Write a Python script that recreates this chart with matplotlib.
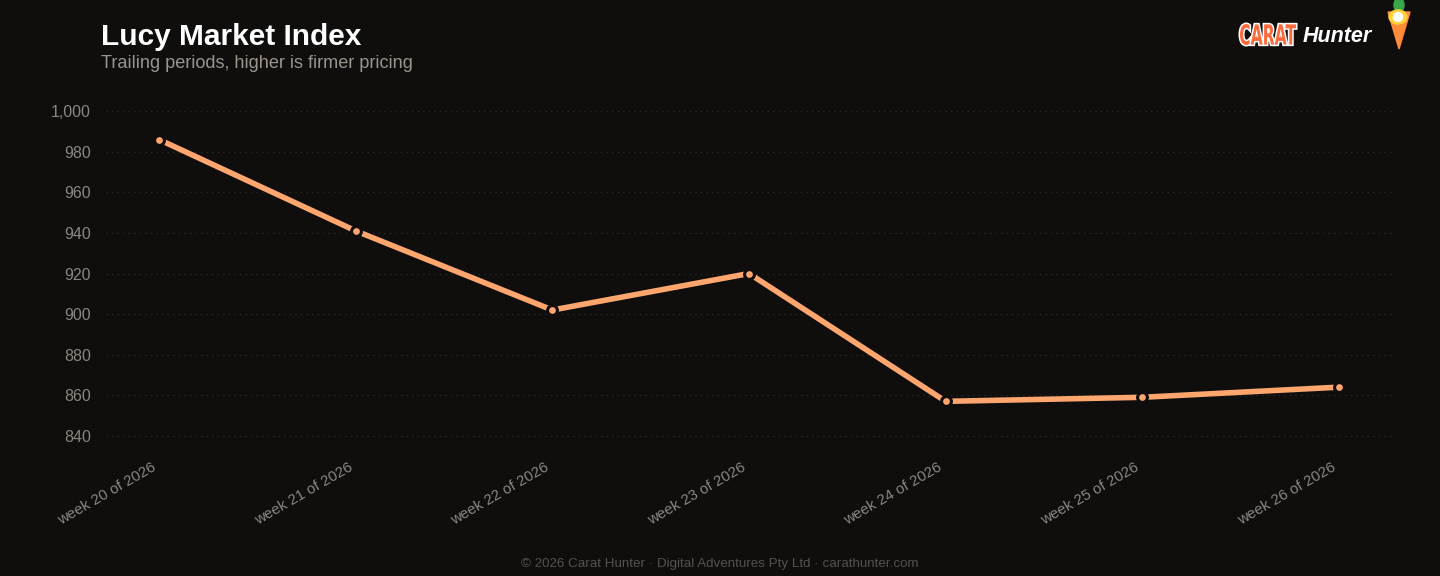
import matplotlib.pyplot as plt
import matplotlib.transforms as mtransforms
from matplotlib.patches import Polygon, Ellipse, PathPatch
from matplotlib.textpath import TextPath
from matplotlib.font_manager import FontProperties
from matplotlib.ticker import FuncFormatter

weeks = ['week 20 of 2026', 'week 21 of 2026', 'week 22 of 2026', 'week 23 of 2026',
         'week 24 of 2026', 'week 25 of 2026', 'week 26 of 2026']
index_values = [986, 941, 902, 920, 857, 859, 864]
y_ticks = [840, 860, 880, 900, 920, 940, 960, 980, 1000]

bg = '#0f0e0d'
line_col = '#ffa66e'
tick_col = '#8c8680'

plt.rcParams['font.family'] = ['Liberation Sans', 'DejaVu Sans']

fig = plt.figure(figsize=(14.4, 5.76), dpi=100, facecolor=bg)
ax = fig.add_axes([106/1440, 1-446/576, (1392-106)/1440, (446-101)/576])
ax.set_facecolor(bg)

x = list(range(len(weeks)))
ax.plot(x, index_values, color=line_col, lw=4, solid_capstyle='round', zorder=3)
ax.scatter(x, index_values, s=50, color=line_col, edgecolor=bg, linewidth=2.2, zorder=4)

ax.set_xlim(-0.27, 6.27)
ax.set_ylim(835, 1005)
ax.set_yticks(y_ticks)
ax.yaxis.set_major_formatter(FuncFormatter(lambda v, p: f'{v:,.0f}'))
ax.set_xticks(x)
ax.set_xticklabels(weeks, rotation=30, ha='right', rotation_mode='anchor')
ax.tick_params(axis='y', length=0, colors=tick_col, labelsize=11.5, pad=11)
ax.tick_params(axis='x', length=0, colors=tick_col, labelsize=10.8, pad=10)
shift = mtransforms.ScaledTranslation(-8/100, 0, fig.dpi_scale_trans)
for lbl in ax.get_xticklabels():
    lbl.set_transform(lbl.get_transform() + shift)
ax.grid(axis='y', color='#2b2926', linestyle=(0, (1, 3)), lw=1)
ax.grid(axis='x', visible=False)
for s in ax.spines.values():
    s.set_visible(False)

fig.text(101/1440, 1-37/576, 'Lucy Market Index', color='#ffffff', fontsize=21.5,
         fontweight='bold', va='center', ha='left')
fig.text(101/1440, 1-63/576, 'Trailing periods, higher is firmer pricing', color='#9a948d',
         fontsize=13.1, va='center', ha='left')
fig.text(0.5, 1-564/576, '\u00a9 2026 Carat Hunter \u00b7 Digital Adventures Pty Ltd \u00b7 carathunter.com',
         color='#55514d', fontsize=9.6, ha='center', va='center')

# logo: condensed "CARAT" drawn as a stretched text path (pixel coords)
tp = TextPath((0, 0), 'CARAT', size=10, prop=FontProperties(family='DejaVu Sans', weight='bold'))
ext = tp.get_extents()
sx = 56 / ext.width
sy = 21 / ext.height
path_tr = (mtransforms.Affine2D().translate(-ext.x0, -ext.y0).scale(sx, sy)
           .translate(1240, 576 - 45))
carat_path = path_tr.transform_path(tp)
fig.patches.append(PathPatch(carat_path, facecolor='#ffffff', edgecolor='#ffffff', lw=2.2,
                             transform=mtransforms.IdentityTransform()))
fig.patches.append(PathPatch(carat_path, facecolor='#ff6a3d', lw=0,
                             transform=mtransforms.IdentityTransform()))
fig.text(1303/1440, 1-36/576, 'Hunter', color='#ffffff', fontsize=15.5, fontweight='bold',
         style='italic', va='center', ha='left')
carrot = Polygon([(1388/1440, 1-12/576), (1410/1440, 1-12/576), (1399/1440, 1-49/576)],
                 closed=True, color='#ff8a3a', transform=fig.transFigure)
leaf = Ellipse((1399/1440, 1-5/576), 10/1440, 14/576, color='#3aa64a', transform=fig.transFigure)
face = Ellipse((1398/1440, 1-17/576), 18/1440, 14/576, color='#ffd23a', transform=fig.transFigure)
eyes = Ellipse((1398/1440, 1-17/576), 9/1440, 9/576, color='#ffffff', transform=fig.transFigure)
for p in (carrot, leaf, face, eyes):
    fig.patches.append(p)

fig.savefig('out.png', dpi=100, facecolor=bg)
